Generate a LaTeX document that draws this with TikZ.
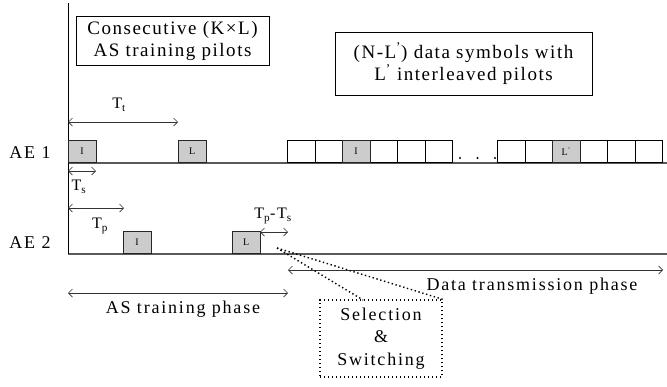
\documentclass[tikz,border=0pt]{standalone}
\usepackage{fontspec}
\setmainfont{Liberation Serif}[LetterSpace=10]
\usetikzlibrary{arrows.meta}
\tikzset{
  axisline/.style={draw=black!65, line width=1.3pt},
  pilot/.style={draw=black!85, fill=gray!40, minimum width=27.5pt, minimum height=22pt,
    inner sep=0pt, anchor=south west, line width=0.8pt, font=\fontsize{10}{10}\selectfont},
  databox/.style={draw=black, fill=white, minimum width=27.5pt, minimum height=22pt,
    inner sep=0pt, anchor=south west, line width=0.8pt},
  dimarrow/.style={{Straight Barb[length=4pt,width=8pt]}-{Straight Barb[length=4pt,width=8pt]},
    line width=0.7pt, draw=black!80},
  lbl/.style={inner sep=0pt, font=\fontsize{18}{18}\selectfont},
  sublbl/.style={inner sep=0pt, font=\fontsize{16}{16}\selectfont},
  infobox/.style={draw, line width=0.8pt, align=center, inner sep=0pt,
    font=\fontsize{19}{22}\selectfont\addfontfeatures{LetterSpace=8}},
  dotline/.style={line width=1.4pt, dash pattern=on 1.4pt off 2.6pt},
}
\begin{document}
\begin{tikzpicture}[x=1pt,y=-1pt]
\useasboundingbox (0,0) rectangle (667,386);

% axes
\coordinate (top) at (68,3);
\coordinate (o1) at (68,163);
\coordinate (e1) at (667,163);
\coordinate (o2) at (68,254);
\coordinate (e2) at (667,254);
\draw[axisline] (o1) -- (e1);
\draw[axisline] (o2) -- (e2);
\draw[line width=1pt] (top) -- (o2);

% labels AE
\node[lbl] (ae1) at (30,153) {AE 1};
\node[lbl] (ae2) at (30,243) {AE 2};

% info boxes
\node[infobox, minimum width=193pt, minimum height=49pt] (cons) at (172.5,40.5)
  {Consecutive (K×L)\\AS training pilots};
\node[infobox, minimum width=257pt, minimum height=63pt] (datainfo) at (463.5,63.5)
  {(N-L\textsuperscript{'}) data symbols with\\L\textsuperscript{'} interleaved pilots};

% pilots AE1
\node[pilot] (a1I) at (68,163) {I};
\node[pilot] (a1L) at (178,163) {L};
% pilots AE2
\node[pilot] (a2I) at (123,254) {I};
\node[pilot] (a2L) at (232,254) {L};

% data symbols
\foreach \k in {0,...,5}{
  \pgfmathsetmacro\xa{287+27.5*\k}
  \pgfmathsetmacro\xb{497+27.5*\k}
  \node[databox] (dA\k) at (\xa,163) {};
  \node[databox] (dB\k) at (\xb,163) {};
}
\node[pilot] (dI) at (342,163) {I};
\node[pilot] (dL) at (552,163) {L\textsuperscript{'}};
\foreach \x [count=\n] in {460,477.5,495}{
  \fill (\x,158) circle (1.1pt);
}

% Tt
\coordinate (tt0) at (68,122);
\coordinate (tt1) at (178,122);
\draw[dimarrow] (tt0) -- (tt1);
\node[sublbl] (ttl) at (119,105) {T\textsubscript{t}};
% Ts
\coordinate (ts0) at (68,171);
\coordinate (ts1) at (96,171);
\draw[dimarrow] (ts0) -- (ts1);
\node[sublbl] (tsl) at (79,187) {T\textsubscript{s}};
% Tp
\coordinate (tp0) at (68,208);
\coordinate (tp1) at (124,208);
\draw[dimarrow] (tp0) -- (tp1);
\node[sublbl] (tpl) at (100,226) {T\textsubscript{p}};
% Tp - Ts
\coordinate (tq0) at (260,232);
\coordinate (tq1) at (288,232);
\draw[dimarrow] (tq0) -- (tq1);
\node[sublbl] (tql) at (273,216) {T\textsubscript{p}-T\textsubscript{s}};

% phases
\coordinate (as0) at (68,293);
\coordinate (as1) at (288,293);
\draw[dimarrow] (as0) -- (as1);
\node[lbl] (asl) at (183,309) {AS training phase};
\coordinate (dt0) at (288,270);
\coordinate (dt1) at (663,270);
\draw[dimarrow] (dt0) -- (dt1);
\node[lbl] (dtl) at (532,286) {Data transmission phase};

% selection & switching
\node[draw, dotline, minimum width=122pt, minimum height=77pt, inner sep=0pt,
  align=center, font=\fontsize{18}{22.5}\selectfont] (sel) at (381,338.5)
  {Selection\\\&\\Switching};
\coordinate (sw) at (277,248);
\draw[dotline] (sw) -- (363,300);
\draw[dotline] (sw) -- (sel.north east);
\end{tikzpicture}
\end{document}
